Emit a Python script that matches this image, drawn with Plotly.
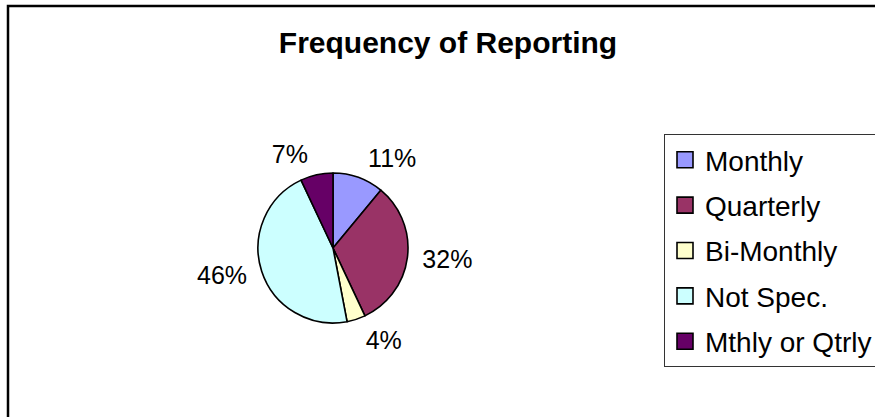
import plotly.graph_objects as go

categories = ["Monthly", "Quarterly", "Bi-Monthly", "Not Spec.", "Mthly or Qtrly"]
values = [11, 32, 4, 46, 7]
colors = ["#9999FF", "#993366", "#FFFFCC", "#CCFFFF", "#660066"]
title_text = "Frequency of Reporting"

W, H = 875, 417
FONT = "Liberation Sans, Arial, sans-serif"
CX, CY, R = 333, 248, 75     # pie centre / radius in px
RT = 83                      # radius of the (invisible) label ring

# visible pie
fig = go.Figure()
fig.add_trace(go.Pie(
    labels=categories,
    values=values,
    marker=dict(colors=colors, line=dict(color="black", width=1.6)),
    sort=False,
    direction="clockwise",
    rotation=0,
    textinfo="none",
    showlegend=False,
    domain=dict(x=[(CX - R) / W, (CX + R) / W], y=[1 - (CY + R) / H, 1 - (CY - R) / H]),
    hoverinfo="skip",
))
# transparent ring carrying the percentage labels slightly further out
fig.add_trace(go.Pie(
    labels=categories,
    values=values,
    marker=dict(colors=["rgba(0,0,0,0)"] * len(values), line=dict(width=0)),
    sort=False,
    direction="clockwise",
    rotation=0,
    texttemplate="%{percent:.0%}",
    textposition="outside",
    textfont=dict(family=FONT, size=25, color="black"),
    showlegend=False,
    domain=dict(x=[(CX - RT) / W, (CX + RT) / W], y=[1 - (CY + RT) / H, 1 - (CY - RT) / H]),
    hoverinfo="skip",
))

for i, (c, col) in enumerate(zip(categories, colors)):
    fig.add_trace(go.Scatter(
        x=[None], y=[None], mode="markers", name=c,
        marker=dict(symbol="square", size=16, color=col, line=dict(color="black", width=1.6)),
        legendgroup=f"g{i}", showlegend=True,
    ))

fig.update_layout(
    width=W, height=H,
    margin=dict(l=0, r=0, t=0, b=0, autoexpand=False),
    paper_bgcolor="white", plot_bgcolor="white",
    xaxis=dict(visible=False), yaxis=dict(visible=False),
    title=dict(text="<b>" + title_text + "</b>", x=448 / W, xanchor="center",
               y=1 - 42.5 / H, yanchor="middle",
               font=dict(family=FONT, size=30, color="black")),
    legend=dict(x=664 / W, xanchor="left", y=1 - 134 / H, yanchor="top",
                bordercolor="#333333", borderwidth=1, bgcolor="white",
                font=dict(family=FONT, size=28, color="black"),
                tracegroupgap=6, itemclick=False),
    shapes=[dict(type="rect", xref="paper", yref="paper",
                 x0=8 / W, x1=1.05, y0=-0.05, y1=1 - 6 / H,
                 line=dict(color="black", width=2.5), fillcolor="rgba(0,0,0,0)",
                 layer="below")],
)

fig.write_html("out.html")
